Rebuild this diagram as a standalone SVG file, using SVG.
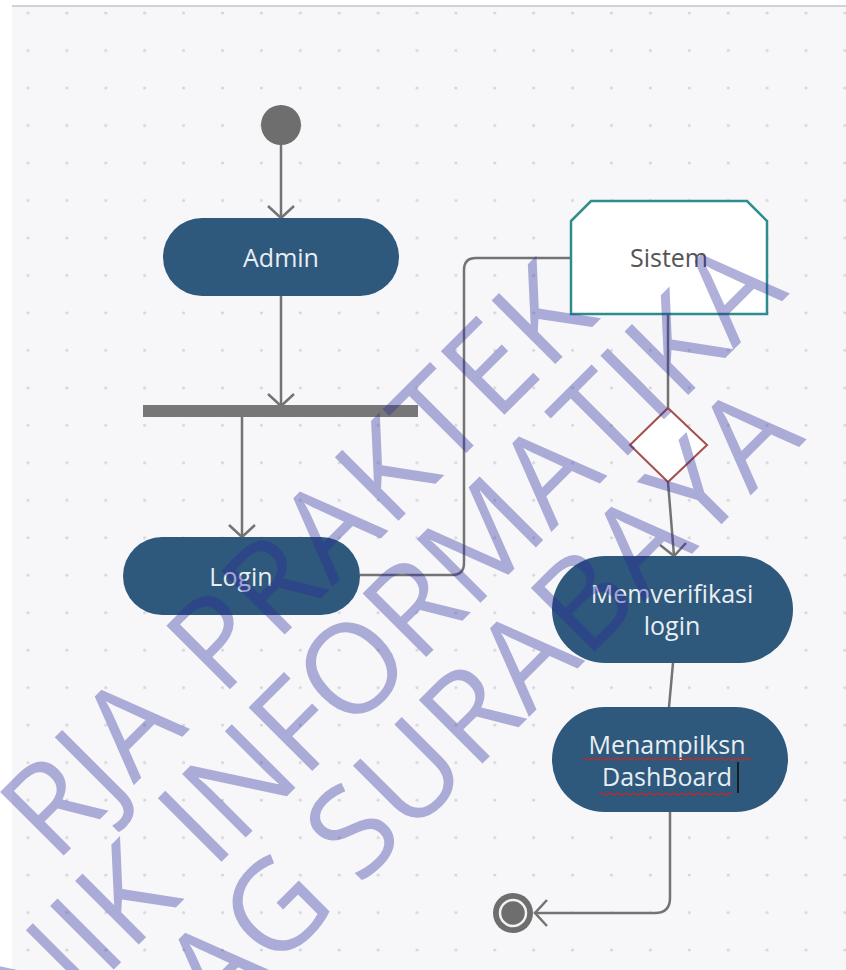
<svg xmlns="http://www.w3.org/2000/svg" width="846" height="970" viewBox="0 0 846 970">
  <style>
    .node { fill: #2e587c; }
    .ntext { font-family: "Open Sans", "Liberation Sans", sans-serif; font-size: 25px; fill: #e8eef2; text-anchor: middle; }
    .conn { fill: none; stroke: #737373; stroke-width: 2.5; }
    .wm { font-family: "Open Sans", "Lato", "Liberation Sans", sans-serif; font-weight: 400; font-size: 126px; fill: #2a2a9c; fill-opacity: 0.37; }
  </style>
  <defs>
    <pattern id="dots" patternUnits="userSpaceOnUse" x="8.55" y="-5.74" width="38.9" height="37.48">
      <circle cx="19.45" cy="18.74" r="1.6" fill="#d6d6da"/>
    </pattern>
    <marker id="arr" viewBox="-15 -16 17 32" markerWidth="17" markerHeight="32" refX="0" refY="0" orient="auto" markerUnits="userSpaceOnUse">
      <path d="M-12,-13 L0,0 L-12,13" fill="none" stroke="#737373" stroke-width="2.5"/>
    </marker>
  </defs>

  <rect x="0" y="0" width="846" height="970" fill="#ffffff"/>
  <rect x="12" y="6" width="834" height="964" fill="#f7f7f9"/>
  <rect x="12" y="6" width="834" height="964" fill="url(#dots)"/>
  <line x1="12" y1="6" x2="846" y2="6" stroke="#d2d2d6" stroke-width="2"/>

  <g id="connectors">
    <path class="conn" d="M281,145 V218" marker-end="url(#arr)"/>
    <path class="conn" d="M281,296 V406" marker-end="url(#arr)"/>
    <path class="conn" d="M242,417 V537" marker-end="url(#arr)"/>
    <path class="conn" d="M360,575 H452 Q464,575 464,563 V270 Q464,258 476,258 H571"/>
    <path class="conn" d="M668,314 V408"/>
    <path class="conn" d="M668,482 L674,556" marker-end="url(#arr)"/>
    <path class="conn" d="M673,663 L669,707"/>
    <path class="conn" d="M670,812 V898 Q670,913 655,913 H535" marker-end="url(#arr)"/>
  </g>

  <g id="start">
    <circle cx="281" cy="125" r="20" fill="#6e6e6e"/>
  </g>

  <g id="admin">
    <rect class="node" x="163" y="218" width="236" height="78" rx="39"/>
    <text class="ntext" x="281" y="267">Admin</text>
  </g>

  <g id="fork">
    <rect x="143" y="405" width="275" height="12" fill="#777777"/>
  </g>

  <g id="login">
    <rect class="node" x="123" y="537" width="237" height="78" rx="39"/>
    <text class="ntext" x="241" y="586">Login</text>
  </g>

  <g id="sistem">
    <path d="M591,201 H747 L767,221 V314 H571 V221 Z" fill="#ffffff" stroke="#2f8c8c" stroke-width="2.5"/>
    <text x="669" y="267" font-family="'Open Sans', 'Liberation Sans', sans-serif" font-size="25" fill="#555555" text-anchor="middle">Sistem</text>
  </g>

  <g id="decision">
    <path d="M668,408 L707,445 L668,482 L630,445 Z" fill="#ffffff" stroke="#a4504c" stroke-width="2"/>
  </g>

  <g id="memverifikasi">
    <rect class="node" x="552" y="556" width="241" height="107" rx="53.5"/>
    <text class="ntext" x="672" y="603">Memverifikasi</text>
    <text class="ntext" x="672" y="635">login</text>
  </g>

  <g id="menampilksn">
    <rect class="node" x="552" y="707" width="236" height="105" rx="52.5"/>
    <text class="ntext" x="667" y="754">Menampilksn</text>
    <text class="ntext" x="667" y="786">DashBoard</text>
    <path d="M583,759 q2,-2 4,0 t4,0 t4,0 t4,0 t4,0 t4,0 t4,0 t4,0 t4,0 t4,0 t4,0 t4,0 t4,0 t4,0 t4,0 t4,0 t4,0 t4,0 t4,0 t4,0 t4,0 t4,0 t4,0 t4,0 t4,0 t4,0 t4,0 t4,0 t4,0 t4,0 t4,0 t4,0 t4,0 t4,0 t4,0 t4,0 t4,0 t4,0 t4,0 t4,0 t4,0 t4,0" fill="none" stroke="#b03030" stroke-width="1.3"/>
    <path d="M600,794 q2,-2 4,0 t4,0 t4,0 t4,0 t4,0 t4,0 t4,0 t4,0 t4,0 t4,0 t4,0 t4,0 t4,0 t4,0 t4,0 t4,0 t4,0 t4,0 t4,0 t4,0 t4,0 t4,0 t4,0 t4,0 t4,0 t4,0 t4,0 t4,0 t4,0 t4,0 t4,0 t4,0 t4,0" fill="none" stroke="#b03030" stroke-width="1.3"/>
    <line x1="738" y1="762" x2="738" y2="793" stroke="#111111" stroke-width="1.6"/>
  </g>

  <g id="end">
    <circle cx="513" cy="913" r="20" fill="#6e6e6e"/>
    <circle cx="513" cy="913" r="13" fill="none" stroke="#f2f2f2" stroke-width="2.5"/>
  </g>

  <g id="watermark" transform="rotate(-45)">
    <text class="wm" x="-381" y="650" text-anchor="end">RJA</text>
    <text class="wm" x="-337" y="650" textLength="537" lengthAdjust="spacing">PRAKTEK</text>
    <text class="wm" x="-505" y="766" text-anchor="end">NIK</text>
    <text class="wm" x="-465" y="766" textLength="816" lengthAdjust="spacing">INFORMATIKA</text>
    <text class="wm" x="-402" y="881" text-anchor="end">AG</text>
    <text class="wm" x="-373" y="881" textLength="633" lengthAdjust="spacing">SURABAYA</text>
  </g>
</svg>
